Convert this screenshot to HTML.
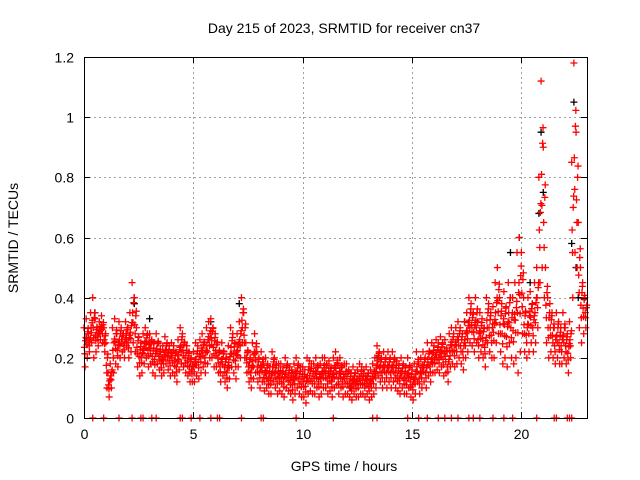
<!DOCTYPE html>
<html><head><meta charset="utf-8"><style>
html,body{margin:0;padding:0;background:#fff;}
svg{display:block;font-family:"Liberation Sans",sans-serif;}
</style></head><body>
<svg id="chart" width="640" height="480" viewBox="0 0 640 480">
<rect width="640" height="480" fill="#fff"/>
<text x="344" y="33" font-size="14" text-anchor="middle">Day 215 of 2023, SRMTID for receiver cn37</text>
<text x="344" y="471" font-size="14" text-anchor="middle">GPS time / hours</text>
<text transform="translate(18,238) rotate(-90)" font-size="14" text-anchor="middle">SRMTID / TECUs</text>
<g id="grid"></g><g id="marks"></g>
<rect x="84.5" y="57.5" width="503" height="361" fill="none" stroke="#000"/>
<g id="axes"></g>
</svg>
<script>
const startHour = 0, stepHour = 0.1;
const upperValues = [.30,.33,.28,.35,.40,.33,.30,.32,.34,.30, .25,.15,.18,.30,.33,.28,.32,.30,.28,.32, .30,.35,.45,.40,.30,.27,.25,.28,.30,.28, .28,.26,.25,.28,.25,.22,.24,.27,.25,.24, .25,.24,.22,.26,.30,.28,.25,.24,.22,.20, .22,.25,.24,.26,.28,.25,.30,.32,.33,.30, .28,.25,.22,.25,.22,.20,.24,.30,.28,.25, .28,.32,.40,.35,.25,.22,.20,.25,.28,.22, .20,.22,.18,.20,.18,.17,.22,.20,.18,.18, .18,.17,.20,.18,.17,.16,.18,.20,.18,.17, .17,.16,.20,.19,.18,.18,.20,.17,.18,.20, .20,.18,.19,.17,.20,.22,.18,.20,.17,.18, .18,.16,.15,.17,.15,.16,.18,.17,.16,.17, .15,.16,.18,.20,.24,.22,.20,.22,.20,.22, .20,.22,.20,.19,.18,.20,.18,.17,.20,.17, .16,.18,.22,.18,.20,.22,.20,.25,.22,.25, .24,.26,.25,.27,.25,.26,.22,.28,.30,.28, .30,.32,.30,.28,.32,.35,.40,.38,.35,.40, .32,.35,.33,.30,.40,.38,.35,.37,.45,.50, .40,.38,.42,.37,.45,.40,.40,.45,.55,.60, .55,.40,.35,.40,.42,.38,.45,.50,.80,1.12, .90,.50,.40,.38,.35,.30,.35,.32,.30,.35, .30,.28,.32,.85,1.18,.95,.65,.50,.45,.40];
const lowerValues = [.17,.20,.22,.25,.20,.22,.24,.26,.25,.22, .10,.07,.10,.15,.18,.17,.20,.22,.20,.24, .20,.22,.25,.22,.17,.14,.15,.18,.20,.17, .18,.15,.14,.18,.16,.14,.15,.18,.16,.14, .15,.14,.12,.16,.18,.17,.15,.14,.12,.12, .12,.14,.13,.15,.17,.15,.18,.20,.20,.17, .17,.15,.12,.14,.12,.10,.13,.17,.15,.13, .17,.20,.25,.20,.15,.12,.10,.13,.15,.12, .10,.12,.09,.10,.08,.08,.12,.10,.08,.09, .08,.07,.10,.09,.08,.06,.08,.10,.08,.07, .07,.05,.08,.09,.08,.08,.10,.07,.08,.10, .10,.08,.09,.07,.10,.11,.08,.10,.07,.08, .08,.07,.06,.08,.07,.07,.08,.08,.07,.08, .06,.07,.08,.10,.14,.12,.10,.12,.10,.12, .10,.12,.10,.09,.08,.10,.08,.08,.10,.07, .06,.08,.12,.08,.10,.12,.10,.14,.12,.15, .15,.16,.15,.17,.14,.15,.12,.17,.18,.17, .18,.20,.18,.16,.20,.22,.25,.24,.22,.25, .20,.22,.20,.17,.25,.22,.20,.20,.25,.28, .22,.18,.20,.17,.25,.20,.18,.20,.15,.22, .28,.22,.20,.22,.25,.22,.25,.30,.45,.50, .40,.25,.20,.22,.20,.18,.20,.18,.18,.20, .18,.15,.20,.40,.55,.50,.30,.25,.28,.30];
const zeroTimes = [0.4,0.9,1.6,2.2,2.6,2.7,3.1,3.3,4.4,4.5,4.9,5.3,5.8,6.1,6.2,7.2,8.1,8.2,9.7,11.4,13.2,13.4,14.8,15.3,15.7,16.2,16.5,16.8,17.1,17.6,17.8,18.1,18.7,19.2,19.6,20.7,21.5,21.6,22.1,22.2,22.3];
const blackTimes = [0.5,2.3,3.0,5.8,7.1,9.5,12.2,13.4,17.4,19.5,19.9,20.4,20.8,20.9,21.0,22.3,22.4,22.5,22.6];
const blackValues = [0.35,0.38,0.33,0.32,0.38,0.15,0.1,0.2,0.32,0.55,0.6,0.45,0.68,0.95,0.75,0.58,1.05,0.5,0.4];
const xTicks = [0,5,10,15,20];
const yTicks = [0,0.2,0.4,0.6,0.8,1,1.2];
const yTickLabels = ["0","0.2","0.4","0.6","0.8","1","1.2"];

const X0=84,X1=587,Y0=418,Y1=57,XMAX=23,YMAX=1.2;
const xs=v=>X0+(X1-X0)*v/XMAX, ys=v=>Y0-(Y0-Y1)*v/YMAX;
const NS="http://www.w3.org/2000/svg";
const grid=document.getElementById('grid'),axes=document.getElementById('axes'),marks=document.getElementById('marks');
function mk(tag,attrs,parent){const e=document.createElementNS(NS,tag);for(const k in attrs)e.setAttribute(k,attrs[k]);parent.appendChild(e);return e;}
xTicks.forEach(t=>{const x=Math.round(xs(t))+0.5;
 if(t>0){const g=mk('line',{x1:x,x2:x,y1:Y1,y2:Y0,stroke:'#a0a0a0','stroke-dasharray':'2,3'},grid);
 
 }
 mk('line',{x1:x,x2:x,y1:Y0,y2:Y0-6,stroke:'#000'},axes);mk('line',{x1:x,x2:x,y1:Y1,y2:Y1+6,stroke:'#000'},axes);
 const l=mk('text',{x:x,y:Y0+21,'font-size':14,'text-anchor':'middle'},axes);l.textContent=t;
 
 });
yTicks.forEach((t,i)=>{const y=Math.round(ys(t))+0.5;
 if(t>0&&t<YMAX){const g=mk('line',{x1:X0,x2:X1,y1:y,y2:y,stroke:'#a0a0a0','stroke-dasharray':'2,3'},grid);
 
 }
 mk('line',{x1:X0,x2:X0+6,y1:y,y2:y,stroke:'#000'},axes);mk('line',{x1:X1,x2:X1-6,y1:y,y2:y,stroke:'#000'},axes);
 const l=mk('text',{x:X0-10,y:y+5,'font-size':14,'text-anchor':'end'},axes);l.textContent=yTickLabels[i];
 
 });
function plus(t,v,c,name){const x=xs(t),y=ys(v);
 const p=mk('path',{d:`M${x-3.5},${y}H${x+3.5}M${x},${y-3.5}V${y+3.5}`,stroke:c,'stroke-width':1.3,fill:'none'},marks);
 
 }
blackTimes.forEach((t,i)=>plus(t,blackValues[i],'#000','black-point'));
upperValues.forEach((v,i)=>{const t=startHour+i*stepHour;const lo=lowerValues[i];
 plus(t,v,'#f00','srmtid-point');
 plus(t+0.05,lo,'#f00','srmtid-point');
 plus(t+0.02,(v+lo)/2,'#f00','srmtid-point');
 plus(t+0.07,(v*2+lo)/3,'#f00','srmtid-point');
 plus(t+0.04,(v+lo*2)/3,'#f00','srmtid-point');
 plus(t+0.09,(v*3+lo)/4,'#f00','srmtid-point');});
zeroTimes.forEach(t=>plus(t,0,'#f00','zero-point'));
</script>
</body></html>
